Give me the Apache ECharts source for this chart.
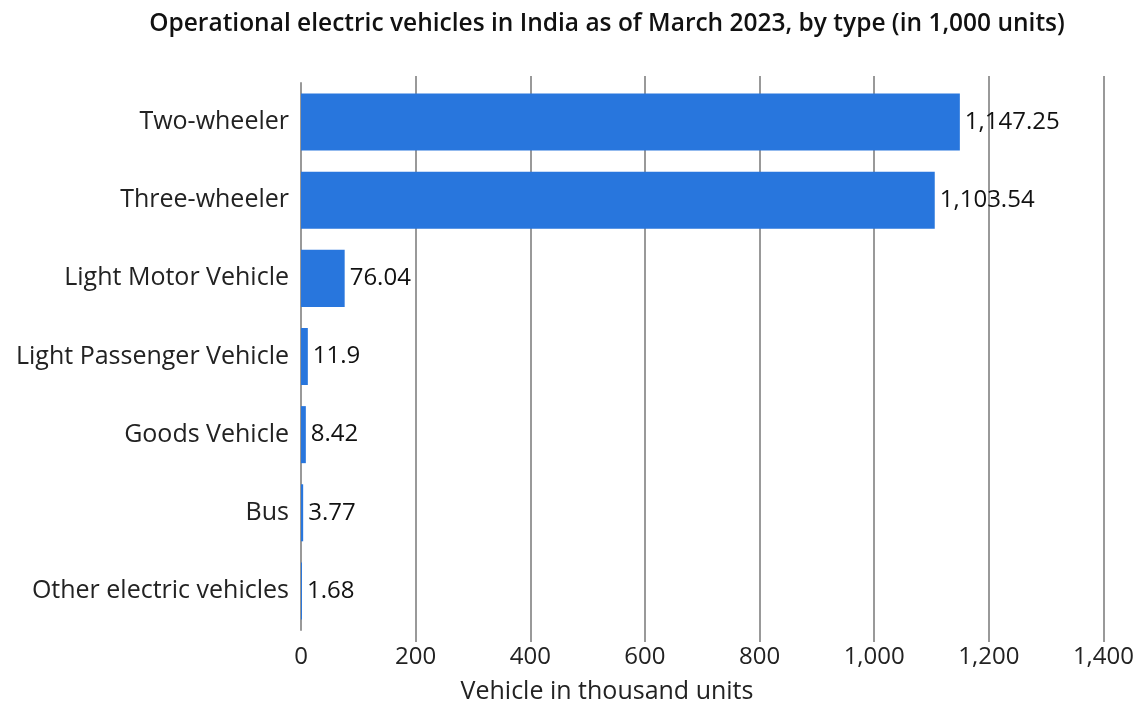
<!DOCTYPE html>
<html>
<head>
<meta charset="utf-8">
<script src="https://cdn.jsdelivr.net/npm/echarts@6/dist/echarts.min.js"></script>
<style>
html,body{margin:0;padding:0;background:#fff;}
#chart{width:1137px;height:706px;}
</style>
</head>
<body>
<div id="chart"></div>
<script>
const categories = ['Two-wheeler','Three-wheeler','Light Motor Vehicle','Light Passenger Vehicle','Goods Vehicle','Bus','Other electric vehicles'];
const values = [1147.25, 1103.54, 76.04, 11.9, 8.42, 3.77, 1.68];
const titleText = 'Operational electric vehicles in India as of March 2023, by type (in 1,000 units)';
const axisTitle = 'Vehicle in thousand units';

const FONT = '"Open Sans"';
const fmt = v => v.toLocaleString('en-US', {maximumFractionDigits: 2});
const chart = echarts.init(document.getElementById('chart'));
chart.setOption({
  animation: false,
  textStyle: {fontFamily: FONT},
  graphic: [
    {type: 'text', x: 607, y: 12, style: {text: titleText, textAlign: 'center', font: '600 24.5px ' + FONT, fill: '#111'}},
    {type: 'text', x: 607, y: 679, style: {text: axisTitle, textAlign: 'center', font: '25px ' + FONT, fill: '#222'}}
  ],
  grid: [
    {left: 301, right: 32, top: 76, bottom: 64},
    {left: 301, right: 32, top: 83, bottom: 76}
  ],
  xAxis: [
    {type: 'value', gridIndex: 0, min: 0, max: 1400, interval: 200,
     axisLine: {show: false}, axisTick: {show: false},
     axisLabel: {color: '#222', fontSize: 24, margin: 3, formatter: v => fmt(v)},
     splitLine: {show: true, lineStyle: {color: ['rgba(0,0,0,0)','#999','#999','#999','#999','#999','#999','#999'], width: 2}}},
    {type: 'value', gridIndex: 1, min: 0, max: 1400, interval: 200, show: false}
  ],
  yAxis: [
    {type: 'category', gridIndex: 0, data: categories, show: false},
    {type: 'category', gridIndex: 1, data: categories, inverse: true,
     axisLine: {show: true, lineStyle: {color: '#999', width: 2}},
     axisTick: {show: false},
     axisLabel: {color: '#222', fontSize: 25, margin: 12}}
  ],
  series: [{
    type: 'bar', xAxisIndex: 1, yAxisIndex: 1, data: values,
    barCategoryGap: '27%',
    itemStyle: {color: '#2876DD'},
    label: {show: true, position: 'right', distance: 5, color: '#111', fontSize: 24, formatter: p => fmt(p.value)}
  }]
});
</script>
</body>
</html>
